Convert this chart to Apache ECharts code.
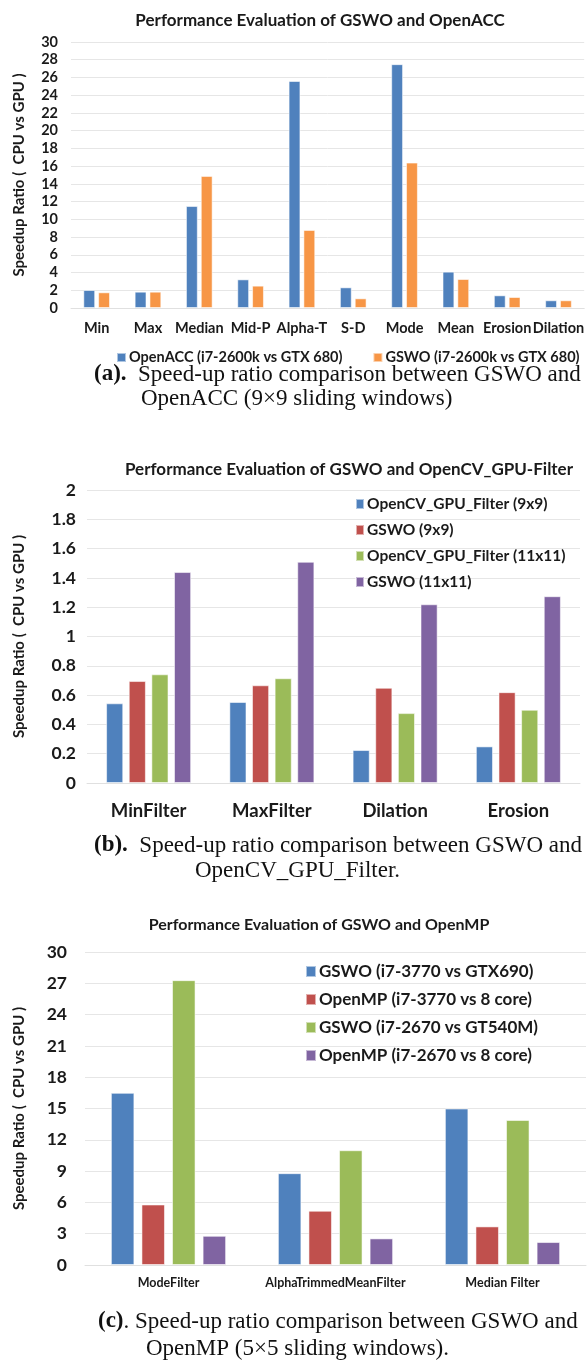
<!DOCTYPE html>
<html>
<head>
<meta charset="utf-8">
<script src="https://cdn.jsdelivr.net/npm/echarts@6/dist/echarts.min.js"></script>
<style>
html,body{margin:0;padding:0;background:#fff;}
#main{width:587px;height:1361px;}
</style>
</head>
<body>
<div id="main"></div>
<script>
// ---- Chart (a) data ----
const catsA = ['Min','Max','Median','Mid-P','Alpha-T','S-D','Mode','Mean','Erosion','Dilation'];
const openAcc = [2.03,1.84,11.5,3.23,25.6,2.33,27.5,4.1,1.43,0.87];
const gswoAcc = [1.77,1.84,14.9,2.52,8.8,1.09,16.4,3.27,1.24,0.87];
const namesA = ['OpenACC (i7-2600k vs GTX 680)','GSWO (i7-2600k vs GTX 680)'];

// ---- Chart (b) data ----
const catsB = ['MinFilter','MaxFilter','Dilation','Erosion'];
const cvGpu9 = [0.544,0.553,0.225,0.25];
const gswo9 = [0.696,0.667,0.65,0.62];
const cvGpu11 = [0.742,0.715,0.477,0.5];
const gswo11 = [1.44,1.51,1.22,1.275];
const namesB = ['OpenCV_GPU_Filter (9x9)','GSWO (9x9)','OpenCV_GPU_Filter (11x11)','GSWO (11x11)'];

// ---- Chart (c) data ----
const catsC = ['ModeFilter','AlphaTrimmedMeanFilter','Median Filter'];
const gswo3770 = [16.5,8.8,15.0];
const omp3770 = [5.8,5.2,3.7];
const gswo2670 = [27.3,11.0,13.9];
const omp2670 = [2.8,2.55,2.2];
const namesC = ['GSWO (i7-3770 vs GTX690)','OpenMP (i7-3770 vs 8 core)','GSWO (i7-2670 vs GT540M)','OpenMP (i7-2670 vs 8 core)'];

const BLUE='#4F81BD', ORANGE='#F79646', RED='#C0504D', GREEN='#9BBB59', PURPLE='#8064A2';
const FONT='Lato';
const TXT='#1a1a1a';
const yName='Speedup Ratio (  CPU vs GPU )';

function mkBar(name, data, color, idx, catGap, gap){
  return {
    type:'bar', name:name, data:data, xAxisIndex:idx, yAxisIndex:idx,
    barCategoryGap:catGap, barGap:gap,
    itemStyle:{color:color, borderColor:'rgba(255,255,255,0.55)', borderWidth:1},
    emphasis:{disabled:true}
  };
}

const chart = echarts.init(document.getElementById('main'), null, {renderer:'canvas'});
const gridLine = {show:true, lineStyle:{color:'#E6E6E6', width:1}};
const xAxisBase = {
  type:'category',
  axisLine:{show:true, lineStyle:{color:'#E0E0E0'}},
  axisTick:{show:false}
};
const yAxisBase = {
  type:'value', min:0,
  axisLine:{show:false}, axisTick:{show:false},
  splitLine:gridLine,
  nameLocation:'middle', nameRotate:90
};

const option = {
  animation:false,
  backgroundColor:'#fff',
  textStyle:{fontFamily:FONT},
  title:[
    {text:'Performance Evaluation of GSWO and OpenACC', left:315, top:7, textAlign:'center',
      textStyle:{fontFamily:FONT, fontSize:17, fontWeight:'bold', color:TXT}},
    {text:'Performance Evaluation of GSWO and OpenCV_GPU-Filter', left:344, top:456, textAlign:'center',
      textStyle:{fontFamily:FONT, fontSize:17, fontWeight:'bold', color:TXT}},
    {text:'Performance Evaluation of GSWO and OpenMP', left:314, top:912, textAlign:'center',
      textStyle:{fontFamily:FONT, fontSize:16, fontWeight:'bold', color:TXT}}
  ],
  legend:[
    {data:namesA, orient:'horizontal', left:111, top:345, itemWidth:9, itemHeight:9, itemGap:30,
      icon:'rect', textStyle:{fontFamily:FONT, fontSize:14.5, fontWeight:'bold', color:TXT, padding:[0,0,0,-2]}},
    {data:namesB, orient:'vertical', left:350, top:491, itemWidth:8, itemHeight:10, itemGap:10,
      icon:'rect', textStyle:{fontFamily:FONT, fontSize:15.5, fontWeight:'bold', color:TXT, padding:[0,0,0,-2]}},
    {data:namesC, orient:'vertical', left:300, top:958, itemWidth:10, itemHeight:11, itemGap:11,
      icon:'rect', textStyle:{fontFamily:FONT, fontSize:17, fontWeight:'bold', color:TXT, padding:[0,0,0,-2]}}
  ],
  grid:[
    {left:71, right:0, top:42, height:266},
    {left:87, right:7, top:490, height:293},
    {left:85, right:1, top:952, height:313}
  ],
  xAxis:[
    Object.assign({}, xAxisBase, {gridIndex:0, data:catsA,
      axisLabel:{fontFamily:FONT, fontSize:14.5, fontWeight:'bold', color:TXT, margin:13, interval:0}}),
    Object.assign({}, xAxisBase, {gridIndex:1, data:catsB,
      axisLabel:{fontFamily:FONT, fontSize:18.5, fontWeight:'bold', color:TXT, margin:19, interval:0}}),
    Object.assign({}, xAxisBase, {gridIndex:2, data:catsC,
      axisLabel:{fontFamily:FONT, fontSize:12.5, fontWeight:'bold', color:TXT, margin:11, interval:0}})
  ],
  yAxis:[
    Object.assign({}, yAxisBase, {gridIndex:0, max:30, interval:2, name:yName, nameGap:44,
      nameTextStyle:{fontFamily:FONT, fontSize:15, fontWeight:'bold', color:TXT},
      axisLabel:{fontFamily:FONT, fontSize:14.5, fontWeight:'bold', color:TXT, margin:13}}),
    Object.assign({}, yAxisBase, {gridIndex:1, max:2, interval:0.2, name:yName, nameGap:60,
      nameTextStyle:{fontFamily:FONT, fontSize:15, fontWeight:'bold', color:TXT},
      axisLabel:{fontFamily:FONT, fontSize:17.5, fontWeight:'bold', color:TXT, margin:11}}),
    Object.assign({}, yAxisBase, {gridIndex:2, max:30, interval:3, name:yName, nameGap:58,
      nameTextStyle:{fontFamily:FONT, fontSize:15, fontWeight:'bold', color:TXT},
      axisLabel:{fontFamily:FONT, fontSize:17.5, fontWeight:'bold', color:TXT, margin:18}})
  ],
  series:[
    mkBar(namesA[0], openAcc, BLUE, 0, '48%', '25%'),
    mkBar(namesA[1], gswoAcc, ORANGE, 0, '48%', '25%'),
    mkBar(namesB[0], cvGpu9, BLUE, 1, '31%', '32%'),
    mkBar(namesB[1], gswo9, RED, 1, '31%', '32%'),
    mkBar(namesB[2], cvGpu11, GREEN, 1, '31%', '32%'),
    mkBar(namesB[3], gswo11, PURPLE, 1, '31%', '32%'),
    mkBar(namesC[0], gswo3770, BLUE, 2, '31%', '30%'),
    mkBar(namesC[1], omp3770, RED, 2, '31%', '30%'),
    mkBar(namesC[2], gswo2670, GREEN, 2, '31%', '30%'),
    mkBar(namesC[3], omp2670, PURPLE, 2, '31%', '30%')
  ],
  graphic:[]
};

const SERIF='"Liberation Serif","DejaVu Serif",serif';
function cap(x, y, boldPart, rest){
  return {type:'text', left:x, top:y-13, silent:true,
    style:{text:(boldPart?'{b|'+boldPart+'}':'')+rest, font:'23px '+SERIF, fill:'#111',
      rich:{b:{font:'bold 23px '+SERIF, fill:'#111'}}}};
}
option.graphic = [
  cap(94, 376, '(a).', '  Speed-up ratio comparison between GSWO and'),
  cap(141, 400, '', 'OpenACC (9×9 sliding windows)'),
  cap(94, 847, '(b).', '  Speed-up ratio comparison between GSWO and'),
  cap(195, 872, '', 'OpenCV_GPU_Filter.'),
  cap(98, 1323, '(c)', '. Speed-up ratio comparison between GSWO and'),
  cap(146, 1350, '', 'OpenMP (5×5 sliding windows).')
];

chart.setOption(option);
</script>
</body>
</html>
